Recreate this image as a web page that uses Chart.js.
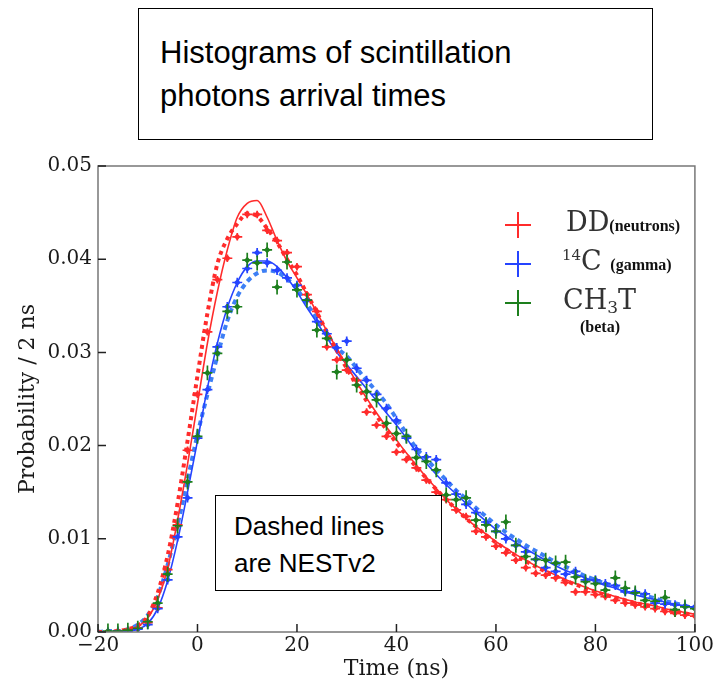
<!DOCTYPE html>
<html>
<head>
<meta charset="utf-8">
<script src="https://cdn.jsdelivr.net/npm/chart.js@4.4.1/dist/chart.umd.min.js"></script>
<style>
  body { margin: 0; background: #fff; }
  #wrap { position: relative; width: 716px; height: 687px; }
  #c { position: absolute; left: 0; top: 0; }
  .box { position: absolute; border: 1.5px solid #000; background: #fff; font-family: Arial, "Liberation Sans", sans-serif; color: #000; }
  .leg { position: absolute; font-family: "DejaVu Serif", serif; color: #333; white-space: nowrap; }
  .note { font-family: "Liberation Serif", "Times New Roman", serif; font-weight: bold; color: #111; }
  .cross { position: absolute; width: 26px; height: 26px; }
  .cross:before { content: ""; position: absolute; left: 0; top: 12px; width: 26px; height: 2px; background: currentColor; }
  .cross:after { content: ""; position: absolute; left: 12px; top: 0; width: 2px; height: 26px; background: currentColor; }
</style>
</head>
<body>
<div id="wrap">
  <canvas id="c" width="716" height="687"></canvas>

  <div class="box" style="left:138px; top:8px; width:513px; height:130px; font-size:31px; line-height:43px;">
    <div style="position:absolute; left:21px; top:22px;">Histograms of scintillation<br>photons arrival times</div>
  </div>

  <div class="box" style="left:215px; top:495px; width:225px; height:94px; font-size:26px; line-height:37px; z-index:2;">
    <div style="position:absolute; left:18px; top:12px;">Dashed lines<br>are NESTv2</div>
  </div>

  <div class="cross" style="left:505px; top:212px; color:#ff2b2b;"></div>
  <div class="leg" style="left:566px; top:206px; font-size:27px;">DD<span class="note" style="font-size:16px;">(neutrons)</span></div>

  <div class="cross" style="left:505px; top:251px; color:#2544ff;"></div>
  <div class="leg" style="left:562px; top:245px; font-size:27px;"><sup style="font-size:15px; vertical-align:10px;">14</sup>C <span class="note" style="font-size:16px;">(gamma)</span></div>

  <div class="cross" style="left:505px; top:290px; color:#1d7f1d;"></div>
  <div class="leg" style="left:563px; top:284px; font-size:27px;">CH<sub style="font-size:17px; vertical-align:-4px;">3</sub>T</div>
  <div class="leg note" style="left:580px; top:318px; font-size:16px;">(beta)</div>
</div>

<script>
const times = [-20,-18,-16,-14,-12,-10,-8,-6,-4,-2,0,2,4,6,8,10,12,14,16,18,20,22,24,26,28,30,32,34,36,38,40,
  42,44,46,48,50,52,54,56,58,60,62,64,66,68,70,72,74,76,78,80,82,84,86,88,90,92,94,96,98,100];

// measured histograms (DD neutrons, 14C gamma, CH3T beta)
const ddData = [0,0,0.0001,0.0002,0.0004,0.001,0.0026,0.0067,0.0115,0.0195,0.0255,0.0322,0.0378,0.0401,0.0424,0.0448,
  0.0448,0.0431,0.042,0.0407,0.0392,0.0362,0.0344,0.0306,0.0292,0.0281,0.027,0.0236,0.0222,0.021,0.0193,
  0.0185,0.0176,0.0163,0.015,0.0142,0.0131,0.0124,0.0108,0.0102,0.0092,0.0085,0.0077,0.0069,0.0063,0.0061,
  0.0058,0.0053,0.0043,0.0043,0.004,0.0038,0.0034,0.0031,0.0029,0.0027,0.0025,0.0022,0.002,0.0018,0.0017];
const c14Data = [0,0,0.0001,0.0001,0.0003,0.0008,0.0025,0.0056,0.0102,0.0144,0.0208,0.026,0.0306,0.0349,0.0375,0.039,
  0.0407,0.0396,0.0388,0.038,0.0372,0.0356,0.0333,0.032,0.0305,0.0312,0.0283,0.027,0.0255,0.024,0.0227,
  0.0208,0.0196,0.0188,0.0185,0.016,0.0148,0.0137,0.0128,0.0118,0.0108,0.01,0.0093,0.0086,0.0078,0.0069,
  0.0065,0.0062,0.0065,0.0056,0.0056,0.0052,0.005,0.0043,0.0043,0.0041,0.0031,0.003,0.0029,0.0028,0.0027];
const ch3tData = [0,0.0001,0.0001,0.0002,0.0004,0.0011,0.0031,0.0062,0.0114,0.0161,0.021,0.0278,0.0299,0.0344,0.0349,0.0399,
  0.0396,0.041,0.037,0.0397,0.0367,0.0356,0.0324,0.0315,0.0279,0.0292,0.0265,0.0258,0.0249,0.0224,0.0213,
  0.021,0.0187,0.0183,0.0174,0.0147,0.0142,0.0144,0.012,0.0115,0.0108,0.0118,0.0093,0.0081,0.0078,0.0077,
  0.0074,0.0075,0.0059,0.0054,0.0052,0.0045,0.0058,0.0047,0.0042,0.0034,0.0033,0.0037,0.0024,0.0027,0.0025];

// vertical error bar half-heights
const ddErr = 0.0004, c14Err = 0.0005, ch3tErr = 0.0008;
const binHalf = 1;

// solid lines (fits) and dashed lines (NESTv2)
const ddFit = [0,0,0,0.0002,0.0006,0.0015,0.0035,0.0068,0.012,0.018,0.0245,0.031,0.0365,0.041,0.0445,0.046,
  0.0463,0.0445,0.042,0.0398,0.038,0.0362,0.0343,0.0323,0.0304,0.0286,0.0268,0.0251,0.0235,0.022,0.0206,
  0.0192,0.0179,0.0166,0.0154,0.0142,0.0132,0.0122,0.0113,0.0105,0.0097,0.009,0.0083,0.0077,0.0071,0.0066,
  0.0061,0.0056,0.0052,0.0048,0.0044,0.0041,0.0038,0.0035,0.0032,0.003,0.0028,0.0025,0.0023,0.0021,0.0019];
const ddNest = [0,0,0.0001,0.0003,0.0007,0.0017,0.0042,0.0082,0.0138,0.0205,0.0275,0.0342,0.0395,0.0422,0.0438,0.0449,
  0.0446,0.0433,0.0418,0.04,0.0383,0.0363,0.0343,0.0322,0.0302,0.0283,0.0265,0.0248,0.0232,0.0217,0.0203,
  0.019,0.0177,0.0165,0.0153,0.0142,0.0132,0.0122,0.0113,0.0104,0.0096,0.0089,0.0082,0.0076,0.007,0.0065,
  0.006,0.0055,0.0051,0.0047,0.0043,0.004,0.0037,0.0034,0.0031,0.0029,0.0027,0.0024,0.0022,0.002,0.0018];
const c14Fit = [0,0,0,0.0001,0.0003,0.0009,0.0025,0.0055,0.0098,0.015,0.0205,0.0262,0.031,0.0348,0.0375,0.0392,
  0.0398,0.0398,0.0392,0.038,0.0365,0.0348,0.0332,0.0316,0.03,0.0287,0.0274,0.0261,0.0248,0.0235,0.0222,
  0.0208,0.0193,0.0181,0.0169,0.0158,0.0148,0.0138,0.0128,0.0119,0.011,0.0103,0.0096,0.0089,0.0083,0.0077,
  0.0071,0.0066,0.0062,0.0058,0.0054,0.005,0.0047,0.0043,0.004,0.0037,0.0035,0.0032,0.003,0.0028,0.0026];
const c14Nest = [0,0.0001,0.0001,0.0003,0.0008,0.0018,0.0038,0.0072,0.0115,0.0163,0.0212,0.0255,0.0296,0.0334,0.036,0.0376,
  0.0385,0.0388,0.0386,0.0379,0.0368,0.0352,0.0336,0.032,0.0305,0.0296,0.0283,0.027,0.0258,0.0245,0.0229,
  0.0213,0.0197,0.0186,0.0174,0.0163,0.0152,0.0143,0.0133,0.0124,0.0115,0.0107,0.01,0.0093,0.0087,0.0081,
  0.0075,0.007,0.0065,0.006,0.0056,0.0052,0.0049,0.0045,0.0042,0.0039,0.0036,0.0033,0.0031,0.0028,0.0026];

const xTicks = [-20, 0, 20, 40, 60, 80, 100];

const RED = '#ff2b2b', BLUE = '#2544ff', GREEN = '#1d7f1d';

function pts(vals, err) {
  return vals.map((v, i) => ({ x: times[i], y: v, err: err }));
}

function pointSet(label, vals, err, color) {
  return { label: label, data: pts(vals, err), showLine: false, borderColor: color, backgroundColor: color,
    pointStyle: 'rectRot', pointRadius: 3.4, pointBorderWidth: 0, errorBars: true, order: 1 };
}

function lineSet(label, vals, color, width, dash) {
  return { label: label, data: pts(vals, 0), showLine: true, borderColor: color, backgroundColor: color,
    borderWidth: width, borderDash: dash, pointRadius: 0, tension: 0.35, cubicInterpolationMode: 'monotone', order: 2 };
}

const frame = {
  id: 'frame',
  afterDatasetsDraw(chart) {
    const ctx = chart.ctx, xs = chart.scales.x, ys = chart.scales.y;
    ctx.save();
    ctx.beginPath();
    ctx.rect(chart.chartArea.left, chart.chartArea.top, chart.chartArea.width, chart.chartArea.height);
    ctx.clip();
    chart.data.datasets.forEach((ds, di) => {
      if (!ds.errorBars || !chart.isDatasetVisible(di)) return;
      ctx.strokeStyle = ds.borderColor;
      ctx.lineWidth = 1.7;
      ds.data.forEach(p => {
        const px = xs.getPixelForValue(p.x), py = ys.getPixelForValue(p.y);
        ctx.beginPath();
        ctx.moveTo(xs.getPixelForValue(p.x - binHalf), py);
        ctx.lineTo(xs.getPixelForValue(p.x + binHalf), py);
        ctx.moveTo(px, ys.getPixelForValue(p.y - p.err));
        ctx.lineTo(px, ys.getPixelForValue(p.y + p.err));
        ctx.stroke();
      });
    });
    ctx.restore();
  },
  afterDraw(chart) {
    const ctx = chart.ctx, a = chart.chartArea, xs = chart.scales.x, ys = chart.scales.y;
    ctx.save();
    ctx.strokeStyle = '#777';
    ctx.lineWidth = 1.5;
    ctx.strokeRect(a.left, a.top, a.right - a.left, a.bottom - a.top);
    ctx.strokeStyle = '#222';
    ctx.lineWidth = 1.5;
    ctx.beginPath();
    xs.ticks.forEach(t => {
      const px = xs.getPixelForValue(t.value);
      ctx.moveTo(px, a.bottom);
      ctx.lineTo(px, a.bottom - 8);
    });
    ys.ticks.forEach(t => {
      const py = ys.getPixelForValue(t.value);
      ctx.moveTo(a.left, py);
      ctx.lineTo(a.left + 8, py);
    });
    ctx.stroke();
    ctx.restore();
  }
};

const tickFont = { family: 'DejaVu Serif', size: 20 };
const titleFont = { family: 'DejaVu Serif', size: 22 };

new Chart(document.getElementById('c').getContext('2d'), {
  type: 'scatter',
  data: {
    datasets: [
      lineSet('DD fit', ddFit, RED, 1.6, []),
      lineSet('DD NESTv2', ddNest, RED, 4, [4, 4]),
      lineSet('14C fit', c14Fit, BLUE, 1.6, []),
      lineSet('14C NESTv2', c14Nest, '#3d7ff5', 4, [5, 4]),
      pointSet('DD', ddData, ddErr, RED),
      pointSet('14C', c14Data, c14Err, BLUE),
      pointSet('CH3T', ch3tData, ch3tErr, GREEN)
    ]
  },
  options: {
    responsive: false,
    animation: false,
    layout: { padding: { top: 166, right: 19, left: 0, bottom: 0 } },
    plugins: { legend: { display: false }, tooltip: { enabled: false } },
    scales: {
      x: {
        type: 'linear', min: -20, max: 100,
        afterBuildTicks: s => { s.ticks = xTicks.map(v => ({ value: v })); },
        afterFit: s => { s.height = 55; },
        grid: { display: false, drawTicks: false },
        border: { display: false },
        ticks: { font: tickFont, color: '#1a1a1a', padding: 2,
          callback: v => (v < 0 ? '\u2212' + Math.abs(v) : String(v)) },
        title: { display: true, text: 'Time (ns)', font: titleFont, color: '#1a1a1a', padding: { top: 0, bottom: 5 } }
      },
      y: {
        min: 0, max: 0.05,
        afterFit: s => { s.width = 98; },
        grid: { display: false, drawTicks: false },
        border: { display: false },
        ticks: { stepSize: 0.01, font: tickFont, color: '#1a1a1a', padding: 6,
          callback: v => v.toFixed(2) },
        title: { display: true, text: 'Probability / 2 ns', font: titleFont, color: '#1a1a1a', padding: { top: 15, bottom: 0 } }
      }
    }
  },
  plugins: [frame]
});
</script>
</body>
</html>
